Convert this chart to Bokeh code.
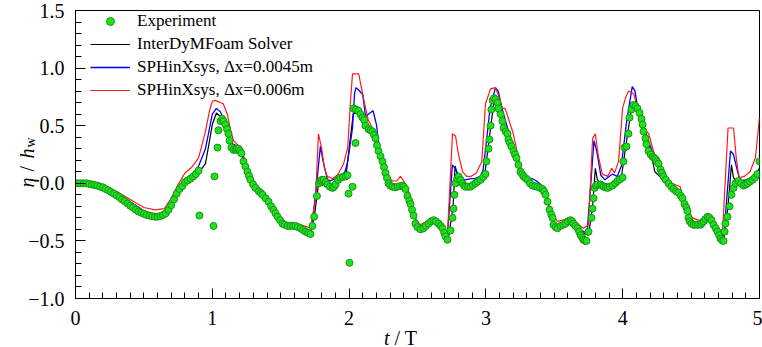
import math
from bokeh.plotting import figure
from bokeh.models import FixedTicker, Legend, LegendItem, Label, GridBox
from bokeh.embed import file_html
from bokeh.resources import INLINE

# ---------------- data ----------------
exp_t = [
    0.00, 0.02, 0.04, 0.06, 0.08, 0.10, 0.12, 0.14, 0.16, 0.18,
    0.20, 0.22, 0.24, 0.26, 0.28, 0.30, 0.32, 0.34, 0.36, 0.38,
    0.40, 0.42, 0.44, 0.46, 0.48, 0.50, 0.52, 0.54, 0.56, 0.58,
    0.60, 0.62, 0.64, 0.66, 0.68, 0.70, 0.72, 0.74, 0.76, 0.78,
    0.80, 0.82, 0.84, 0.86, 0.88, 0.90,
    0.906, 1.009, 1.016, 1.038, 1.045, 1.06, 1.072, 1.082, 1.096, 1.108,
    1.118, 1.126, 1.14, 1.155, 1.17, 1.18, 1.192, 1.203, 1.213, 1.228,
    1.242, 1.257, 1.268, 1.279, 1.298, 1.316, 1.34, 1.355, 1.367, 1.39,
    1.411, 1.43, 1.447, 1.462, 1.477, 1.495, 1.513, 1.53, 1.55, 1.57,
    1.59, 1.608, 1.625, 1.645, 1.663, 1.681, 1.70, 1.718, 1.732, 1.745,
    1.765, 1.78, 1.791, 1.80, 1.813, 1.83, 1.842, 1.86, 1.879, 1.89,
    1.901, 1.92, 1.937, 1.955, 1.974, 1.988, 1.996, 2.003, 2.025, 2.032,
    2.047, 2.05, 2.069, 2.083, 2.098, 2.11, 2.12, 2.142, 2.157, 2.171,
    2.182, 2.193, 2.204, 2.215, 2.23, 2.244, 2.255, 2.266, 2.277, 2.288,
    2.30, 2.317, 2.335, 2.354, 2.372, 2.39, 2.40, 2.412, 2.427, 2.44,
    2.449, 2.46, 2.471, 2.485, 2.50, 2.522, 2.544, 2.562, 2.58, 2.60,
    2.617, 2.635, 2.654, 2.67, 2.683, 2.695, 2.705, 2.719, 2.741, 2.756,
    2.763, 2.77, 2.778, 2.79, 2.80, 2.815, 2.829, 2.84, 2.851, 2.87,
    2.887, 2.905, 2.924, 2.94, 2.961, 2.98, 2.997, 3.004, 3.019, 3.026,
    3.034, 3.04, 3.05, 3.06, 3.07, 3.085, 3.092, 3.107, 3.121, 3.129,
    3.145, 3.158, 3.165, 3.176, 3.187, 3.202, 3.213, 3.224, 3.238, 3.253,
    3.265, 3.275, 3.29, 3.304, 3.322, 3.341, 3.36, 3.377, 3.395, 3.414,
    3.425, 3.436, 3.45, 3.465, 3.478, 3.487, 3.494, 3.51, 3.523, 3.545,
    3.565, 3.582, 3.60, 3.618, 3.63, 3.64, 3.655, 3.67, 3.682, 3.692,
    3.703, 3.713, 3.725, 3.735, 3.75, 3.772, 3.779, 3.787, 3.794, 3.805,
    3.816, 3.838, 3.85, 3.86, 3.875, 3.889, 3.905, 3.925, 3.945, 3.962,
    3.98, 3.999, 4.005, 4.013, 4.028, 4.042, 4.05, 4.064, 4.079, 4.094,
    4.108, 4.123, 4.137, 4.145, 4.152, 4.167, 4.174, 4.189, 4.205, 4.218,
    4.23, 4.24, 4.25, 4.262, 4.276, 4.287, 4.298, 4.315, 4.335, 4.355,
    4.371, 4.39, 4.408, 4.425, 4.437, 4.452, 4.465, 4.474, 4.481, 4.49,
    4.503, 4.517, 4.532, 4.55, 4.569, 4.58, 4.591, 4.605, 4.62, 4.635,
    4.649, 4.664, 4.68, 4.693, 4.705, 4.715, 4.727, 4.737, 4.745, 4.751,
    4.766, 4.781, 4.795, 4.81, 4.825, 4.846, 4.865, 4.883, 4.9, 4.912,
    4.93, 4.949, 4.967, 4.985, 5.0,
]
exp_eta = [
    0.00, 0.00, 0.00, 0.00, 0.00, -0.005, -0.01, -0.015, -0.02, -0.03,
    -0.035, -0.05, -0.06, -0.075, -0.09, -0.105, -0.12, -0.14, -0.155, -0.175,
    -0.195, -0.21, -0.23, -0.245, -0.255, -0.265, -0.275, -0.28, -0.285, -0.29,
    -0.29, -0.285, -0.275, -0.26, -0.23, -0.19, -0.14, -0.09, -0.05, -0.025,
    0.01, 0.025, 0.04, 0.06, 0.08, 0.11,
    -0.28, -0.37, 0.06, 0.31, 0.46, 0.54, 0.56, 0.54, 0.51, 0.47,
    0.43, 0.37, 0.31, 0.29, 0.29, 0.30, 0.30, 0.28, 0.26, 0.19,
    0.145, 0.10, 0.065, 0.03, -0.01, -0.04, -0.07, -0.085, -0.10, -0.13,
    -0.16, -0.20, -0.23, -0.26, -0.29, -0.32, -0.35, -0.36, -0.37, -0.37,
    -0.37, -0.37, -0.38, -0.39, -0.405, -0.42, -0.43, -0.44, -0.37, -0.29,
    -0.11, 0.0, 0.02, 0.03, 0.03, 0.01, -0.01, -0.03, -0.04, -0.03,
    -0.01, 0.03, 0.05, 0.055, 0.06, 0.07, -0.09, -0.69, -0.03, 0.65,
    0.35, 0.64, 0.63, 0.60, 0.57, 0.55, 0.50, 0.47, 0.46, 0.45,
    0.42, 0.39, 0.33, 0.28, 0.235, 0.19, 0.14, 0.09, 0.045, 0.0,
    -0.02, -0.03, -0.035, -0.03, -0.025, -0.02, -0.03, -0.05, -0.11, -0.15,
    -0.18, -0.23, -0.28, -0.35, -0.38, -0.40, -0.39, -0.37, -0.35, -0.33,
    -0.32, -0.33, -0.35, -0.37, -0.39, -0.43, -0.46, -0.49, -0.41, -0.30,
    -0.22, -0.10, 0.0, 0.04, 0.06, 0.03, 0.0, -0.02, -0.03, -0.03,
    -0.03, -0.015, 0.0, 0.015, 0.03, 0.055, 0.08, 0.19, 0.30, 0.38,
    0.50, 0.64, 0.72, 0.74, 0.73, 0.70, 0.65, 0.60, 0.54, 0.48,
    0.45, 0.43, 0.38, 0.35, 0.32, 0.28, 0.25, 0.22, 0.16, 0.10,
    0.08, 0.06, 0.045, 0.03, 0.0, -0.02, -0.025, -0.03, -0.04, -0.05,
    -0.07, -0.10, -0.16, -0.23, -0.27, -0.30, -0.36, -0.38, -0.39, -0.37,
    -0.36, -0.35, -0.33, -0.32, -0.33, -0.35, -0.37, -0.39, -0.42, -0.45,
    -0.47, -0.49, -0.50, -0.50, -0.42, -0.30, -0.22, -0.13, -0.04, -0.02,
    -0.01, -0.01, -0.02, -0.03, -0.035, -0.04, -0.03, -0.02, 0.0, 0.02,
    0.035, 0.05, 0.19, 0.31, 0.32, 0.43, 0.57, 0.64, 0.68, 0.67,
    0.65, 0.61, 0.56, 0.51, 0.45, 0.39, 0.34, 0.28, 0.25, 0.23,
    0.22, 0.21, 0.19, 0.17, 0.12, 0.09, 0.06, 0.03, 0.0, -0.03,
    -0.05, -0.07, -0.08, -0.11, -0.13, -0.18, -0.21, -0.24, -0.30, -0.33,
    -0.35, -0.36, -0.36, -0.36, -0.36, -0.345, -0.33, -0.31, -0.29, -0.30,
    -0.32, -0.36, -0.39, -0.42, -0.45, -0.48, -0.495, -0.50, -0.42, -0.35,
    -0.29, -0.20, -0.10, -0.04, 0.0, 0.02, 0.0, -0.02, -0.01, 0.0,
    0.015, 0.03, 0.05, 0.08, 0.19,
]

foam_t = [
    0.0, 0.1, 0.15, 0.2, 0.3, 0.4, 0.5, 0.57, 0.63, 0.68,
    0.72, 0.76, 0.8, 0.85, 0.9, 0.95, 0.98, 1.0, 1.03, 1.06,
    1.09, 1.12, 1.15, 1.19, 1.22, 1.26, 1.3, 1.37, 1.45, 1.5,
    1.55, 1.62, 1.68, 1.72, 1.75, 1.78, 1.80, 1.83, 1.88, 1.94,
    1.98, 2.0, 2.03, 2.06, 2.1, 2.14, 2.17, 2.2, 2.25, 2.29,
    2.32, 2.39, 2.43, 2.47, 2.5, 2.54, 2.6, 2.65, 2.69, 2.73,
    2.76, 2.775, 2.79, 2.80, 2.85, 2.9, 2.96, 2.99, 3.02, 3.06,
    3.09, 3.12, 3.16, 3.2, 3.24, 3.27, 3.3, 3.38, 3.42, 3.46,
    3.5, 3.54, 3.62, 3.67, 3.71, 3.75, 3.78, 3.80, 3.815, 3.84,
    3.9, 3.96, 3.99, 4.02, 4.07, 4.1, 4.14, 4.17, 4.2, 4.235,
    4.27, 4.33, 4.4, 4.44, 4.48, 4.52, 4.57, 4.62, 4.66, 4.7,
    4.74, 4.77, 4.795, 4.81, 4.84, 4.9, 4.96, 5.0,
]
foam_eta = [
    0.0, 0.0, -0.005, -0.02, -0.08, -0.16, -0.24, -0.27, -0.265, -0.22,
    -0.13, -0.04, 0.02, 0.05, 0.09, 0.17, 0.37, 0.51, 0.61, 0.58,
    0.52, 0.42, 0.33, 0.30, 0.23, 0.11, 0.0, -0.09, -0.22, -0.33,
    -0.36, -0.37, -0.41, -0.44, -0.25, 0.03, -0.02, 0.0, -0.02, 0.04,
    0.09, 0.3, 0.60, 0.62, 0.56, 0.49, 0.44, 0.35, 0.15, 0.0,
    -0.03, -0.02, -0.1, -0.27, -0.36, -0.38, -0.33, -0.35, -0.40, -0.45,
    -0.2, 0.15, 0.08, 0.04, 0.0, -0.01, 0.02, 0.06, 0.35, 0.72,
    0.68, 0.55, 0.43, 0.3, 0.14, 0.04, 0.0, -0.02, -0.05, -0.2,
    -0.36, -0.37, -0.33, -0.38, -0.43, -0.45, -0.2, 0.13, 0.03, 0.0,
    -0.01, 0.02, 0.05, 0.3, 0.70, 0.65, 0.55, 0.43, 0.30, 0.10,
    0.06, 0.0, -0.07, -0.13, -0.27, -0.35, -0.35, -0.30, -0.35, -0.42,
    -0.47, -0.2, 0.16, 0.05, 0.0, -0.01, 0.02, 0.13,
]

sph45_t = [
    0.0, 0.15, 0.2, 0.3, 0.4, 0.5, 0.57, 0.63, 0.68, 0.72,
    0.76, 0.8, 0.85, 0.9, 0.95, 0.98, 1.0, 1.03, 1.06, 1.09,
    1.12, 1.15, 1.19, 1.22, 1.26, 1.3, 1.37, 1.45, 1.5, 1.55,
    1.62, 1.68, 1.72, 1.755, 1.79, 1.81, 1.84, 1.86, 1.9, 1.94,
    1.97, 1.99, 2.025, 2.04, 2.05, 2.07, 2.1, 2.12, 2.14, 2.175,
    2.2, 2.22, 2.245, 2.27, 2.32, 2.36, 2.39, 2.43, 2.46, 2.5,
    2.54, 2.58, 2.62, 2.65, 2.68, 2.72, 2.755, 2.78, 2.81, 2.85,
    2.89, 2.92, 2.96, 2.98, 3.01, 3.03, 3.07, 3.09, 3.12, 3.16,
    3.2, 3.24, 3.27, 3.3, 3.34, 3.37, 3.41, 3.45, 3.49, 3.53,
    3.58, 3.62, 3.66, 3.7, 3.74, 3.79, 3.81, 3.84, 3.87, 3.925,
    3.96, 3.99, 4.03, 4.07, 4.09, 4.11, 4.15, 4.2, 4.25, 4.3,
    4.36, 4.4, 4.45, 4.49, 4.53, 4.58, 4.62, 4.66, 4.7, 4.74,
    4.788, 4.81, 4.84, 4.86, 4.9, 4.95, 5.0,
]
sph45_eta = [
    0.0, 0.0, -0.02, -0.08, -0.16, -0.24, -0.27, -0.26, -0.21, -0.12,
    -0.03, 0.03, 0.07, 0.15, 0.30, 0.48, 0.60, 0.65, 0.62, 0.53,
    0.42, 0.34, 0.32, 0.25, 0.12, 0.01, -0.08, -0.21, -0.32, -0.36,
    -0.36, -0.40, -0.43, -0.1, 0.32, 0.19, 0.04, 0.02, 0.04, 0.06,
    0.10, 0.19, 0.48, 0.78, 0.83, 0.81, 0.77, 0.58, 0.60, 0.63,
    0.51, 0.31, 0.16, 0.06, -0.05, -0.03, -0.01, -0.05, -0.2, -0.36,
    -0.37, -0.33, -0.30, -0.33, -0.39, -0.43, 0.16, 0.12, 0.04, 0.03,
    0.04, 0.04, 0.06, 0.12, 0.43, 0.65, 0.83, 0.80, 0.64, 0.47,
    0.32, 0.17, 0.07, 0.03, 0.04, 0.02, -0.02, -0.15, -0.33, -0.36,
    -0.33, -0.31, -0.36, -0.41, -0.43, 0.37, 0.28, 0.07, 0.03, 0.08,
    0.06, 0.15, 0.55, 0.84, 0.80, 0.65, 0.50, 0.33, 0.18, 0.07,
    0.0, -0.05, -0.15, -0.30, -0.35, -0.33, -0.29, -0.34, -0.41, -0.45,
    0.28, 0.25, 0.10, 0.02, 0.03, 0.05, 0.13,
]

sph6_t = [
    0.0, 0.1, 0.15, 0.2, 0.3, 0.4, 0.5, 0.58, 0.65, 0.7,
    0.75, 0.8, 0.85, 0.9, 0.95, 0.98, 1.0, 1.02, 1.08, 1.11,
    1.13, 1.155, 1.18, 1.21, 1.25, 1.29, 1.33, 1.4, 1.47, 1.52,
    1.56, 1.62, 1.67, 1.718, 1.754, 1.776, 1.80, 1.82, 1.84, 1.88,
    1.92, 1.96, 1.99, 2.01, 2.025, 2.07, 2.09, 2.11, 2.14, 2.17,
    2.21, 2.24, 2.28, 2.32, 2.35, 2.375, 2.40, 2.43, 2.45, 2.485,
    2.52, 2.57, 2.617, 2.654, 2.69, 2.72, 2.756, 2.778, 2.80, 2.83,
    2.86, 2.89, 2.93, 2.97, 2.997, 3.034, 3.07, 3.09, 3.12, 3.14,
    3.165, 3.2, 3.238, 3.265, 3.30, 3.34, 3.38, 3.42, 3.45, 3.487,
    3.523, 3.56, 3.618, 3.655, 3.69, 3.713, 3.75, 3.78, 3.80, 3.82,
    3.85, 3.89, 3.92, 3.94, 3.97, 3.999, 4.02, 4.042, 4.08, 4.108,
    4.13, 4.152, 4.19, 4.225, 4.26, 4.30, 4.35, 4.38, 4.42, 4.44,
    4.48, 4.51, 4.55, 4.59, 4.627, 4.664, 4.70, 4.73, 4.77, 4.81,
    4.83, 4.85, 4.89, 4.93, 4.97, 5.0,
]
sph6_eta = [
    0.0, 0.005, 0.0, -0.03, -0.07, -0.14, -0.21, -0.23, -0.22, -0.13,
    -0.01, 0.09, 0.14, 0.22, 0.45, 0.63, 0.71, 0.72, 0.69, 0.60,
    0.48, 0.37, 0.34, 0.30, 0.17, 0.04, -0.02, -0.12, -0.25, -0.33,
    -0.35, -0.35, -0.37, -0.39, -0.15, 0.43, 0.30, 0.13, 0.06, 0.04,
    0.08, 0.17, 0.31, 0.71, 0.95, 0.95, 0.83, 0.71, 0.55, 0.48,
    0.34, 0.19, 0.06, 0.02, 0.02, 0.06, 0.02, -0.05, -0.16, -0.31,
    -0.36, -0.33, -0.30, -0.33, -0.40, -0.42, 0.43, 0.41, 0.25, 0.10,
    0.06, 0.06, 0.09, 0.19, 0.69, 0.82, 0.83, 0.77, 0.65, 0.65,
    0.56, 0.43, 0.22, 0.10, 0.02, -0.01, -0.01, -0.05, -0.16, -0.27,
    -0.33, -0.32, -0.30, -0.33, -0.37, -0.39, -0.36, 0.39, 0.43, 0.25,
    0.08, 0.06, 0.13, 0.09, 0.19, 0.65, 0.74, 0.80, 0.78, 0.65,
    0.57, 0.48, 0.43, 0.28, 0.17, 0.08, 0.0, -0.01, -0.03, -0.13,
    -0.24, -0.30, -0.32, -0.32, -0.29, -0.32, -0.39, -0.42, 0.48, 0.48,
    0.22, 0.05, 0.06, 0.10, 0.22, 0.57,
]

x_ticks = [0, 1, 2, 3, 4, 5]
y_ticks = [-1.0, -0.5, 0.0, 0.5, 1.0, 1.5]
y_tick_labels = ["\u22121.0", "\u22120.5", "0.0", "0.5", "1.0", "1.5"]
legend_labels = ["Experiment", "InterDyMFoam Solver",
                 "SPHinXsys, \u0394x=0.0045m", "SPHinXsys, \u0394x=0.006m"]

# ---------------- layout ----------------
FONT = "Liberation Serif"
W, H = 762, 347
BL, BR, BT, BB = 75, 3, 10, 49
X0, X1, Y0, Y1 = 0.0, 5.0, -1.0, 1.5

p = figure(width=W, height=H, x_range=(X0, X1), y_range=(Y0, Y1),
           output_backend="svg", toolbar_location=None,
           min_border_left=BL, min_border_right=BR,
           min_border_top=BT, min_border_bottom=BB)
p.xgrid.visible = False
p.ygrid.visible = False
p.outline_line_color = "black"
p.outline_line_width = 1
p.outline_line_alpha = 1.0
p.background_fill_color = "white"
p.border_fill_color = "white"

for ax in (p.xaxis[0], p.yaxis[0]):
    ax.major_tick_in = 10
    ax.major_tick_out = 0
    ax.minor_tick_in = 6
    ax.minor_tick_out = 0
    ax.axis_line_color = "black"
    ax.major_tick_line_color = "black"
    ax.minor_tick_line_color = "black"
    ax.major_label_text_font = FONT
    ax.major_label_text_font_size = "20px"
    ax.major_label_text_color = "black"

p.xaxis.ticker = FixedTicker(ticks=x_ticks,
                             minor_ticks=[round(i * 0.1, 2) for i in range(51)])
p.yaxis.ticker = FixedTicker(ticks=y_ticks,
                             minor_ticks=[round(-1.0 + i * 0.1, 2) for i in range(26)])
p.yaxis.major_label_overrides = dict(zip(y_ticks, y_tick_labels))
p.yaxis.major_label_standoff = 11
p.xaxis.major_label_standoff = 12

r_foam = p.line(foam_t, foam_eta, line_color="black", line_width=1.2)
r_45 = p.line(sph45_t, sph45_eta, line_color="#0000ff", line_width=1.3)
r_6 = p.line(sph6_t, sph6_eta, line_color="#ff1a1a", line_width=1.2)
r_exp = p.scatter(exp_t, exp_eta, size=7, fill_color="#22dd22",
                  line_color="#119911", line_width=1)

legend = Legend(items=[
    LegendItem(label=legend_labels[0], renderers=[r_exp]),
    LegendItem(label=legend_labels[1], renderers=[r_foam]),
    LegendItem(label=legend_labels[2], renderers=[r_45]),
    LegendItem(label=legend_labels[3], renderers=[r_6]),
], location=(15, 198), margin=0, padding=0, spacing=3,
    glyph_width=40, glyph_height=20, label_height=20, label_standoff=7,
    label_text_font=FONT, label_text_font_size="17px",
    label_text_color="black",
    border_line_color=None, background_fill_alpha=0.0)
p.add_layout(legend)

# ---- axis titles: a transparent overlay of the same size, whose frame is the
# whole canvas (so nothing is clipped); its ranges are page pixels.
ov = figure(width=W, height=H, x_range=(0, W), y_range=(H, 0),
            output_backend="svg", toolbar_location=None,
            x_axis_location=None, y_axis_location=None, min_border=0)
ov.grid.visible = False
ov.outline_line_color = None
ov.background_fill_color = None
ov.border_fill_color = None

# do not let the layout align the overlay's frame with the chart's frame
for fig in (p, ov):
    try:
        fig.frame_align = False
    except Exception:
        pass

lab = dict(text_font=FONT, text_color="black", text_baseline="alphabetic")
ov.add_layout(Label(x=389, y=337, text="t", text_align="right",
                    text_font_style="italic", text_font_size="20px", **lab))
ov.add_layout(Label(x=394, y=337, text="/ T", text_align="left",
                    text_font_size="20px", **lab))

rot = math.pi / 2
ov.add_layout(Label(x=26, y=187, text="\u03b7", angle=rot,
                    text_align="left", text_font_style="italic",
                    text_font_size="20px", **lab))
ov.add_layout(Label(x=26, y=171, text="/", angle=rot,
                    text_align="left", text_font_size="20px", **lab))
ov.add_layout(Label(x=26, y=158, text="h", angle=rot,
                    text_align="left", text_font_style="italic",
                    text_font_size="20px", **lab))
ov.add_layout(Label(x=30, y=147, text="w", angle=rot,
                    text_align="left", text_font_size="14px", **lab))

layout = GridBox(children=[(p, 0, 0), (ov, 0, 0)])

open("out.html", "w").write(file_html(layout, INLINE))
